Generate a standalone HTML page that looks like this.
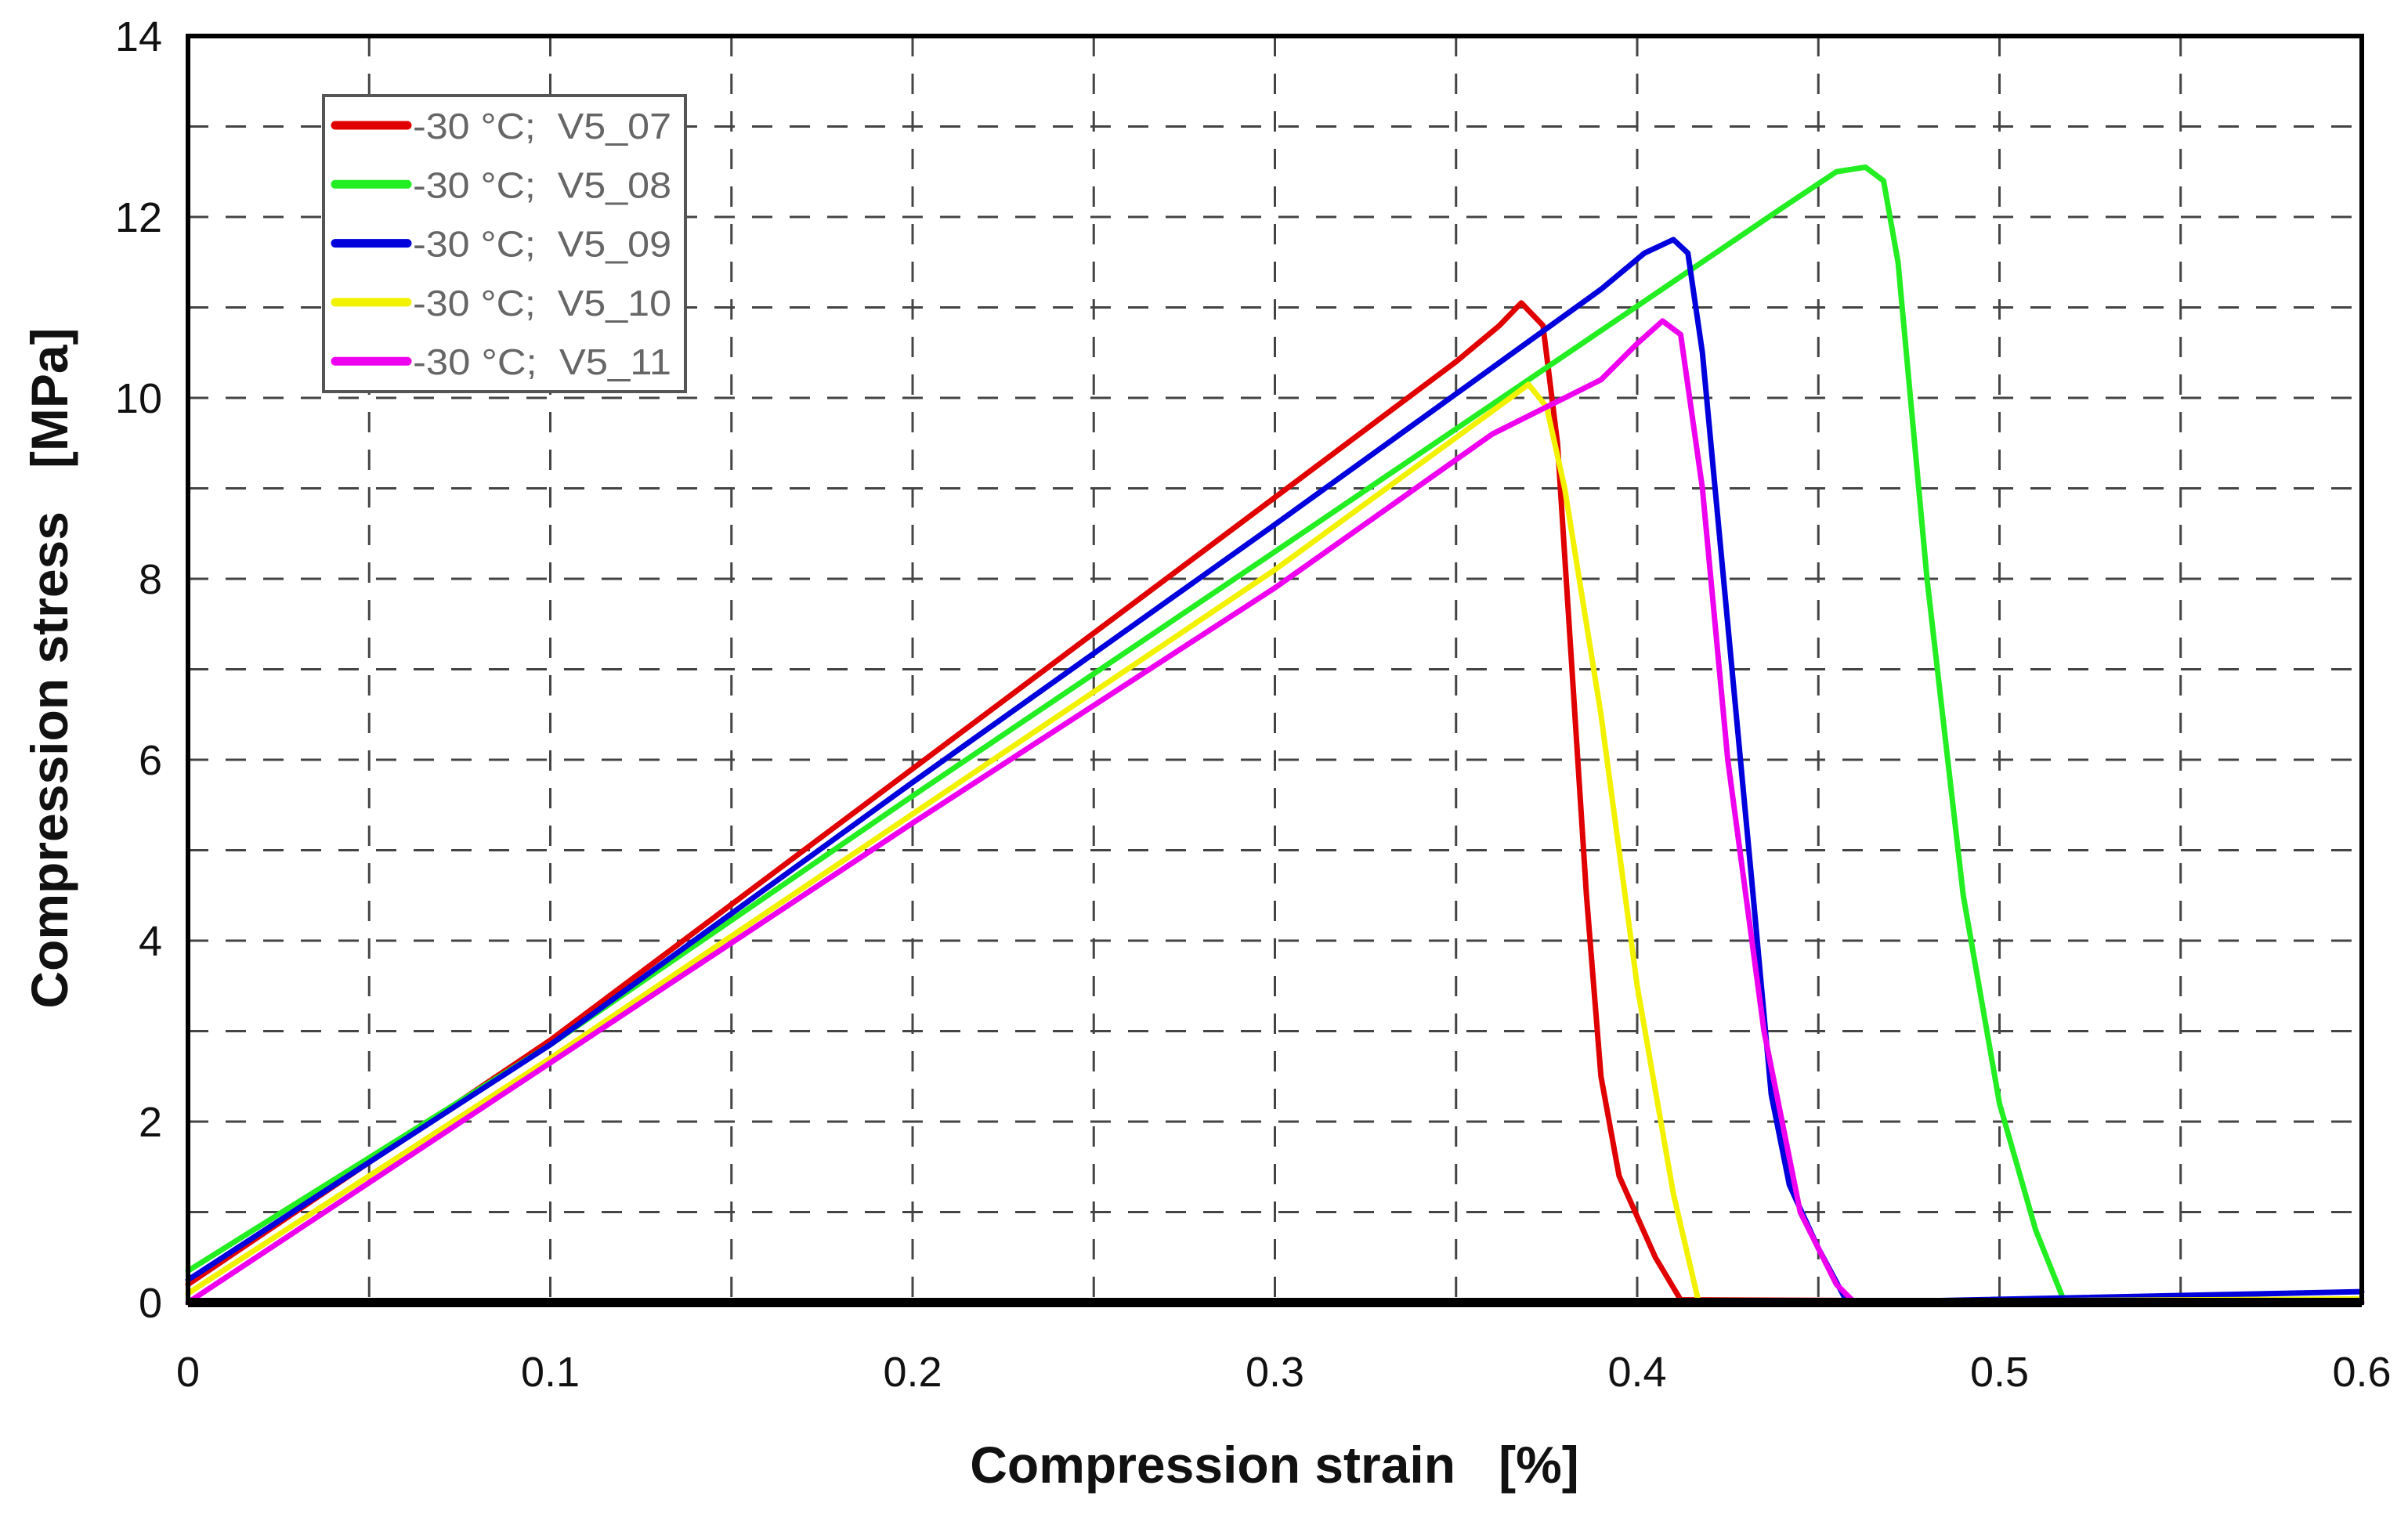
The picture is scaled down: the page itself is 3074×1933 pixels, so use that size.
<!DOCTYPE html>
<html><head><meta charset="utf-8"><style>
html,body{margin:0;padding:0;background:#fff;}
svg{display:block;font-family:"Liberation Sans",sans-serif;}
.pre{white-space:pre;}
</style></head><body>
<svg id="chart" width="3074" height="1933" viewBox="0 0 3074 1933">
<g id="grid"></g>
<g id="series"></g>
<rect x="240" y="46" width="2775" height="1617" fill="none" stroke="#000" stroke-width="6"/>
<line x1="240" y1="1663" x2="3015" y2="1663" stroke="#000" stroke-width="12"/>
<g id="ticks"></g>
<text class="pre" x="1627" y="1893" font-size="66" font-weight="bold" text-anchor="middle" fill="#111">Compression strain   [%]</text>
<text class="pre" transform="translate(86,853) rotate(-90)" font-size="66" font-weight="bold" text-anchor="middle" fill="#111">Compression stress   [MPa]</text>
<g id="legend"></g>
</svg>
<script>
const xTicks=[0,0.1,0.2,0.3,0.4,0.5,0.6];
const yTicks=[0,2,4,6,8,10,12,14];
const seriesNames=["-30 °C;  V5_07","-30 °C;  V5_08","-30 °C;  V5_09","-30 °C;  V5_10","-30 °C;  V5_11"];
const seriesColors=["#e00000","#22ee22","#0000dd","#f2f200","#ee00ee"];
const x07=[0,0.1,0.2,0.3,0.35,0.362,0.368,0.374,0.378,0.382,0.386,0.39,0.395,0.405,0.412,0.6];
const y07=[0.2,2.9,5.9,8.9,10.4,10.8,11.05,10.8,9.5,7,4.5,2.5,1.4,0.5,0.03,0];
const x08=[0,0.1,0.2,0.3,0.44,0.455,0.463,0.468,0.472,0.48,0.49,0.5,0.51,0.518,0.6];
const y08=[0.35,2.85,5.6,8.3,12.1,12.5,12.55,12.4,11.5,8,4.5,2.2,0.8,0,0];
const x09=[0,0.1,0.2,0.3,0.39,0.402,0.41,0.414,0.418,0.425,0.432,0.437,0.442,0.45,0.458,0.6];
const y09=[0.25,2.85,5.75,8.6,11.2,11.6,11.75,11.6,10.5,7.5,4.5,2.3,1.3,0.6,0,0.12];
const x10=[0,0.1,0.2,0.3,0.365,0.37,0.375,0.38,0.39,0.4,0.41,0.417,0.6];
const y10=[0.1,2.7,5.4,8.1,10,10.15,9.9,9,6.5,3.5,1.2,0,0.04];
const x11=[0,0.1,0.2,0.3,0.36,0.375,0.39,0.4,0.407,0.412,0.418,0.425,0.435,0.445,0.455,0.46,0.6];
const y11=[0,2.65,5.3,7.9,9.6,9.9,10.2,10.6,10.85,10.7,9,6,3,1,0.2,0,0];
const seriesX=[x07,x08,x09,x10,x11];
const seriesY=[y07,y08,y09,y10,y11];

const L=240,R=3015,T=46,B=1663;
const sx=v=>L+(v/0.6)*(R-L);
const sy=v=>B-(v/14)*(B-T);
const NS="http://www.w3.org/2000/svg";
const grid=document.getElementById('grid');
for(let i=1;i<12;i++){const v=i*0.05;
 const l=document.createElementNS(NS,'line');
 l.setAttribute('x1',sx(v));l.setAttribute('x2',sx(v));l.setAttribute('y1',T);l.setAttribute('y2',B);
 l.setAttribute('stroke','#444');l.setAttribute('stroke-width','3');l.setAttribute('stroke-dasharray','26 22');
 
 
 grid.appendChild(l);}
for(let i=1;i<14;i++){
 const l=document.createElementNS(NS,'line');
 l.setAttribute('y1',sy(i));l.setAttribute('y2',sy(i));l.setAttribute('x1',L);l.setAttribute('x2',R);
 l.setAttribute('stroke','#444');l.setAttribute('stroke-width','3');l.setAttribute('stroke-dasharray','26 22');
 
 
 grid.appendChild(l);}
const ticks=document.getElementById('ticks');
xTicks.forEach(v=>{const t=document.createElementNS(NS,'text');
 t.setAttribute('x',sx(v));t.setAttribute('y',1770);t.setAttribute('font-size','54');t.setAttribute('text-anchor','middle');t.setAttribute('fill','#111');
 t.textContent=String(v);
 
 
 ticks.appendChild(t);});
yTicks.forEach(v=>{const t=document.createElementNS(NS,'text');
 t.setAttribute('x',207);t.setAttribute('y',sy(v)+19);t.setAttribute('font-size','54');t.setAttribute('text-anchor','end');t.setAttribute('fill','#111');
 t.textContent=String(v);
 
 
 ticks.appendChild(t);});
const sg=document.getElementById('series');
seriesX.forEach((xs,i)=>{const p=document.createElementNS(NS,'polyline');
 p.setAttribute('points',xs.map((x,j)=>sx(x)+','+sy(seriesY[i][j])).join(' '));
 p.setAttribute('fill','none');p.setAttribute('stroke',seriesColors[i]);p.setAttribute('stroke-width','7');
 p.setAttribute('stroke-linejoin','round');p.setAttribute('stroke-linecap','round');
 
 
 sg.appendChild(p);});
const lg=document.getElementById('legend');
const box=document.createElementNS(NS,'rect');
box.setAttribute('x',413);box.setAttribute('y',122);box.setAttribute('width',462);box.setAttribute('height',378);
box.setAttribute('fill','#fff');box.setAttribute('stroke','#555');box.setAttribute('stroke-width','4');


lg.appendChild(box);
seriesNames.forEach((n,i)=>{const y=160+i*75.3;
 const l=document.createElementNS(NS,'line');
 l.setAttribute('x1',428);l.setAttribute('x2',520);l.setAttribute('y1',y);l.setAttribute('y2',y);
 l.setAttribute('stroke',seriesColors[i]);l.setAttribute('stroke-width','11');l.setAttribute('stroke-linecap','round');
 
 
 lg.appendChild(l);
 const t=document.createElementNS(NS,'text');
 t.setAttribute('x',527);t.setAttribute('y',y+17);t.setAttribute('font-size','46');t.setAttribute('fill','#666');
 t.setAttribute('textLength','330');t.setAttribute('lengthAdjust','spacingAndGlyphs');
 t.setAttribute('class','pre');
 t.textContent=n;
 
 
 lg.appendChild(t);});
</script>
</body></html>
